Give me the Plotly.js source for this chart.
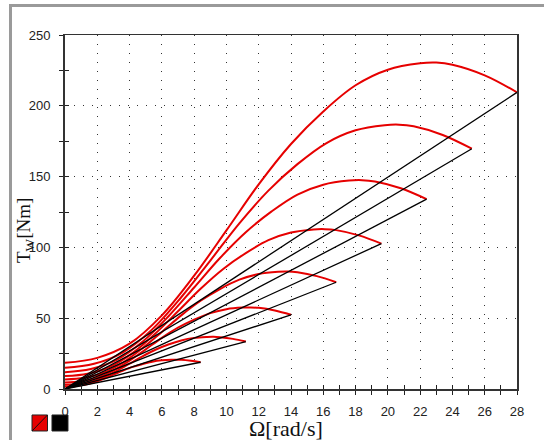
<!DOCTYPE html>
<html>
<head>
<meta charset="utf-8">
<script src="https://cdn.plot.ly/plotly-3.0.1.min.js"></script>
<style>
  html, body { margin: 0; padding: 0; background: #ffffff; }
  #wrap { position: relative; width: 544px; height: 440px; overflow: hidden; }
  #chart { position: absolute; left: 0; top: 0; width: 544px; height: 440px; }
  #frame { position: absolute; left: 9px; top: 4px; width: 540px; height: 440px;
           border-left: 3px solid #9a9a9a; border-top: 3px solid #9a9a9a; pointer-events: none; }
</style>
</head>
<body>
<div id="wrap">
  <div id="chart"></div>
  <div id="frame"></div>
</div>
<script>
// Rotor speed (rad/s) and torque (Nm) of the eight red curves
const omega1 = [0, 2, 4, 6, 8, 10, 12, 14, 16, 18, 20, 22, 23, 24, 26, 28];
const torque1 = [18.5, 22, 32, 52, 80, 112, 144.5, 173, 196, 214.5, 225.5, 230, 230.5, 229, 221.5, 209.5];
const omega2 = [0, 1.8, 3.6, 5.4, 7.2, 9, 10.8, 12.6, 14.4, 16.2, 18, 19.8, 20.7, 21.6, 23.4, 25.2];
const torque2 = [15.0, 17.8, 25.9, 42.1, 64.8, 90.7, 117.0, 140.1, 158.8, 173.7, 182.7, 186.3, 186.7, 185.5, 179.4, 169.7];
const omega3 = [0, 1.6, 3.2, 4.8, 6.4, 8, 9.6, 11.2, 12.8, 14.4, 16, 17.6, 18.4, 19.2, 20.8, 22.4];
const torque3 = [11.8, 14.1, 20.5, 33.3, 51.2, 71.7, 92.5, 110.7, 125.4, 137.3, 144.3, 147.2, 147.5, 146.6, 141.8, 134.1];
const omega4 = [0, 1.4, 2.8, 4.2, 5.6, 7, 8.4, 9.8, 11.2, 12.6, 14, 15.4, 16.1, 16.8, 18.2, 19.6];
const torque4 = [9.1, 10.8, 15.7, 25.5, 39.2, 54.9, 70.8, 84.8, 96.0, 105.1, 110.5, 112.7, 112.9, 112.2, 108.5, 102.7];
const omega5 = [0, 1.2, 2.4, 3.6, 4.8, 6, 7.2, 8.4, 9.6, 10.8, 12, 13.2, 13.8, 14.4, 15.6, 16.8];
const torque5 = [6.7, 7.9, 11.5, 18.7, 28.8, 40.3, 52.0, 62.3, 70.6, 77.2, 81.2, 82.8, 83.0, 82.4, 79.7, 75.4];
const omega6 = [0, 1, 2, 3, 4, 5, 6, 7, 8, 9, 10, 11, 11.5, 12, 13, 14];
const torque6 = [4.6, 5.5, 8.0, 13.0, 20.0, 28.0, 36.1, 43.3, 49.0, 53.6, 56.4, 57.5, 57.6, 57.3, 55.4, 52.4];
const omega7 = [0, 0.8, 1.6, 2.4, 3.2, 4, 4.8, 5.6, 6.4, 7.2, 8, 8.8, 9.2, 9.6, 10.4, 11.2];
const torque7 = [3.0, 3.5, 5.1, 8.3, 12.8, 17.9, 23.1, 27.7, 31.4, 34.3, 36.1, 36.8, 36.9, 36.6, 35.4, 33.5];
const omega8 = [0, 0.6, 1.2, 1.8, 2.4, 3, 3.6, 4.2, 4.8, 5.4, 6, 6.6, 6.9, 7.2, 7.8, 8.4];
const torque8 = [1.7, 2.0, 2.9, 4.7, 7.2, 10.1, 13.0, 15.6, 17.6, 19.3, 20.3, 20.7, 20.7, 20.6, 19.9, 18.9];

// Black straight lines from the origin to each curve's end point
const lineEndOmega = [28, 25.2, 22.4, 19.6, 16.8, 14, 11.2, 8.4];
const lineEndTorque = [209.5, 169.7, 134.1, 102.7, 75.4, 52.4, 33.5, 18.9];

const xTickVals = [0, 2, 4, 6, 8, 10, 12, 14, 16, 18, 20, 22, 24, 26, 28];
const yTickVals = [0, 50, 100, 150, 200, 250];

const redCurves = [
  [omega1, torque1], [omega2, torque2], [omega3, torque3], [omega4, torque4],
  [omega5, torque5], [omega6, torque6], [omega7, torque7], [omega8, torque8]
];

const traces = [];
redCurves.forEach(function (c) {
  traces.push({
    x: c[0], y: c[1], type: 'scatter', mode: 'lines',
    line: { color: '#e60000', width: 2, shape: 'spline', smoothing: 1 },
    hoverinfo: 'skip', showlegend: false, xaxis: 'x', yaxis: 'y'
  });
});
lineEndOmega.forEach(function (w, i) {
  traces.push({
    x: [0, w], y: [0, lineEndTorque[i]], type: 'scatter', mode: 'lines',
    line: { color: '#000000', width: 1.3 },
    hoverinfo: 'skip', showlegend: false, xaxis: 'x2', yaxis: 'y2'
  });
});

const tickFont = { family: 'Liberation Sans, Arial, sans-serif', size: 13, color: '#222' };

const layout = {
  width: 544, height: 440,
  margin: { l: 65, r: 27, t: 35, b: 51 },
  paper_bgcolor: '#ffffff', plot_bgcolor: '#ffffff',
  showlegend: false,
  xaxis: {
    range: [0, 28], tickvals: xTickVals, ticktext: xTickVals.map(String),
    ticks: 'outside', ticklen: 4, tickwidth: 1, tickcolor: '#222',
    minor: { dtick: 1, ticks: 'outside', ticklen: 4, tickwidth: 1, tickcolor: '#222', showgrid: false },
    showgrid: true, gridcolor: '#333', gridwidth: 1, griddash: '1px,8px',
    zeroline: false, showline: true, linecolor: '#333', linewidth: 1.5, mirror: true,
    tickfont: tickFont, ticklabelstandoff: 6, fixedrange: true
  },
  yaxis: {
    range: [0, 250], tickvals: yTickVals, ticktext: yTickVals.map(String),
    ticks: 'outside', ticklen: 4, tickwidth: 1, tickcolor: '#222',
    minor: { dtick: 25, ticks: 'outside', ticklen: 4, tickwidth: 1, tickcolor: '#222', showgrid: false },
    showgrid: true, gridcolor: '#333', gridwidth: 1, griddash: '1px,8px',
    zeroline: false, showline: true, linecolor: '#333', linewidth: 2, mirror: true,
    tickfont: tickFont, ticklabelstandoff: 6, fixedrange: true
  },
  xaxis2: {
    range: [0, 28], overlaying: 'x', side: 'bottom', dtick: 1, tick0: 0,
    ticks: 'inside', ticklen: 4, tickwidth: 1, tickcolor: '#222',
    showticklabels: false, showgrid: false, zeroline: false, showline: false, fixedrange: true
  },
  yaxis2: {
    range: [0, 250], overlaying: 'y', side: 'left', dtick: 25, tick0: 0,
    ticks: 'inside', ticklen: 4, tickwidth: 1, tickcolor: '#222',
    showticklabels: false, showgrid: false, zeroline: false, showline: false, fixedrange: true
  },
  annotations: [
    {
      text: 'Ω[rad/s]', xref: 'paper', yref: 'paper', x: 0.49, y: -0.112,
      xanchor: 'center', yanchor: 'middle', showarrow: false,
      font: { family: 'Liberation Serif, Times New Roman, serif', size: 22, color: '#111' }
    },
    {
      text: 'T<sub>W</sub>[Nm]', xref: 'paper', yref: 'paper', x: -0.088, y: 0.447,
      xanchor: 'center', yanchor: 'middle', textangle: -90, showarrow: false,
      font: { family: 'Liberation Serif, Times New Roman, serif', size: 19, color: '#111' }
    }
  ],
  shapes: [
    { type: 'rect', xref: 'paper', yref: 'paper', x0: -0.0730, x1: -0.0387, y0: -0.1186, y1: -0.0734,
      fillcolor: '#e60000', line: { color: '#222', width: 1 } },
    { type: 'line', xref: 'paper', yref: 'paper', x0: -0.0730, x1: -0.0387, y0: -0.1186, y1: -0.0734,
      line: { color: '#111', width: 1 } },
    { type: 'rect', xref: 'paper', yref: 'paper', x0: -0.0288, x1: 0.0066, y0: -0.1186, y1: -0.0734,
      fillcolor: '#000000', line: { color: '#222', width: 1 } }
  ]
};

Plotly.newPlot('chart', traces, layout, { staticPlot: true, displayModeBar: false });
</script>
</body>
</html>
